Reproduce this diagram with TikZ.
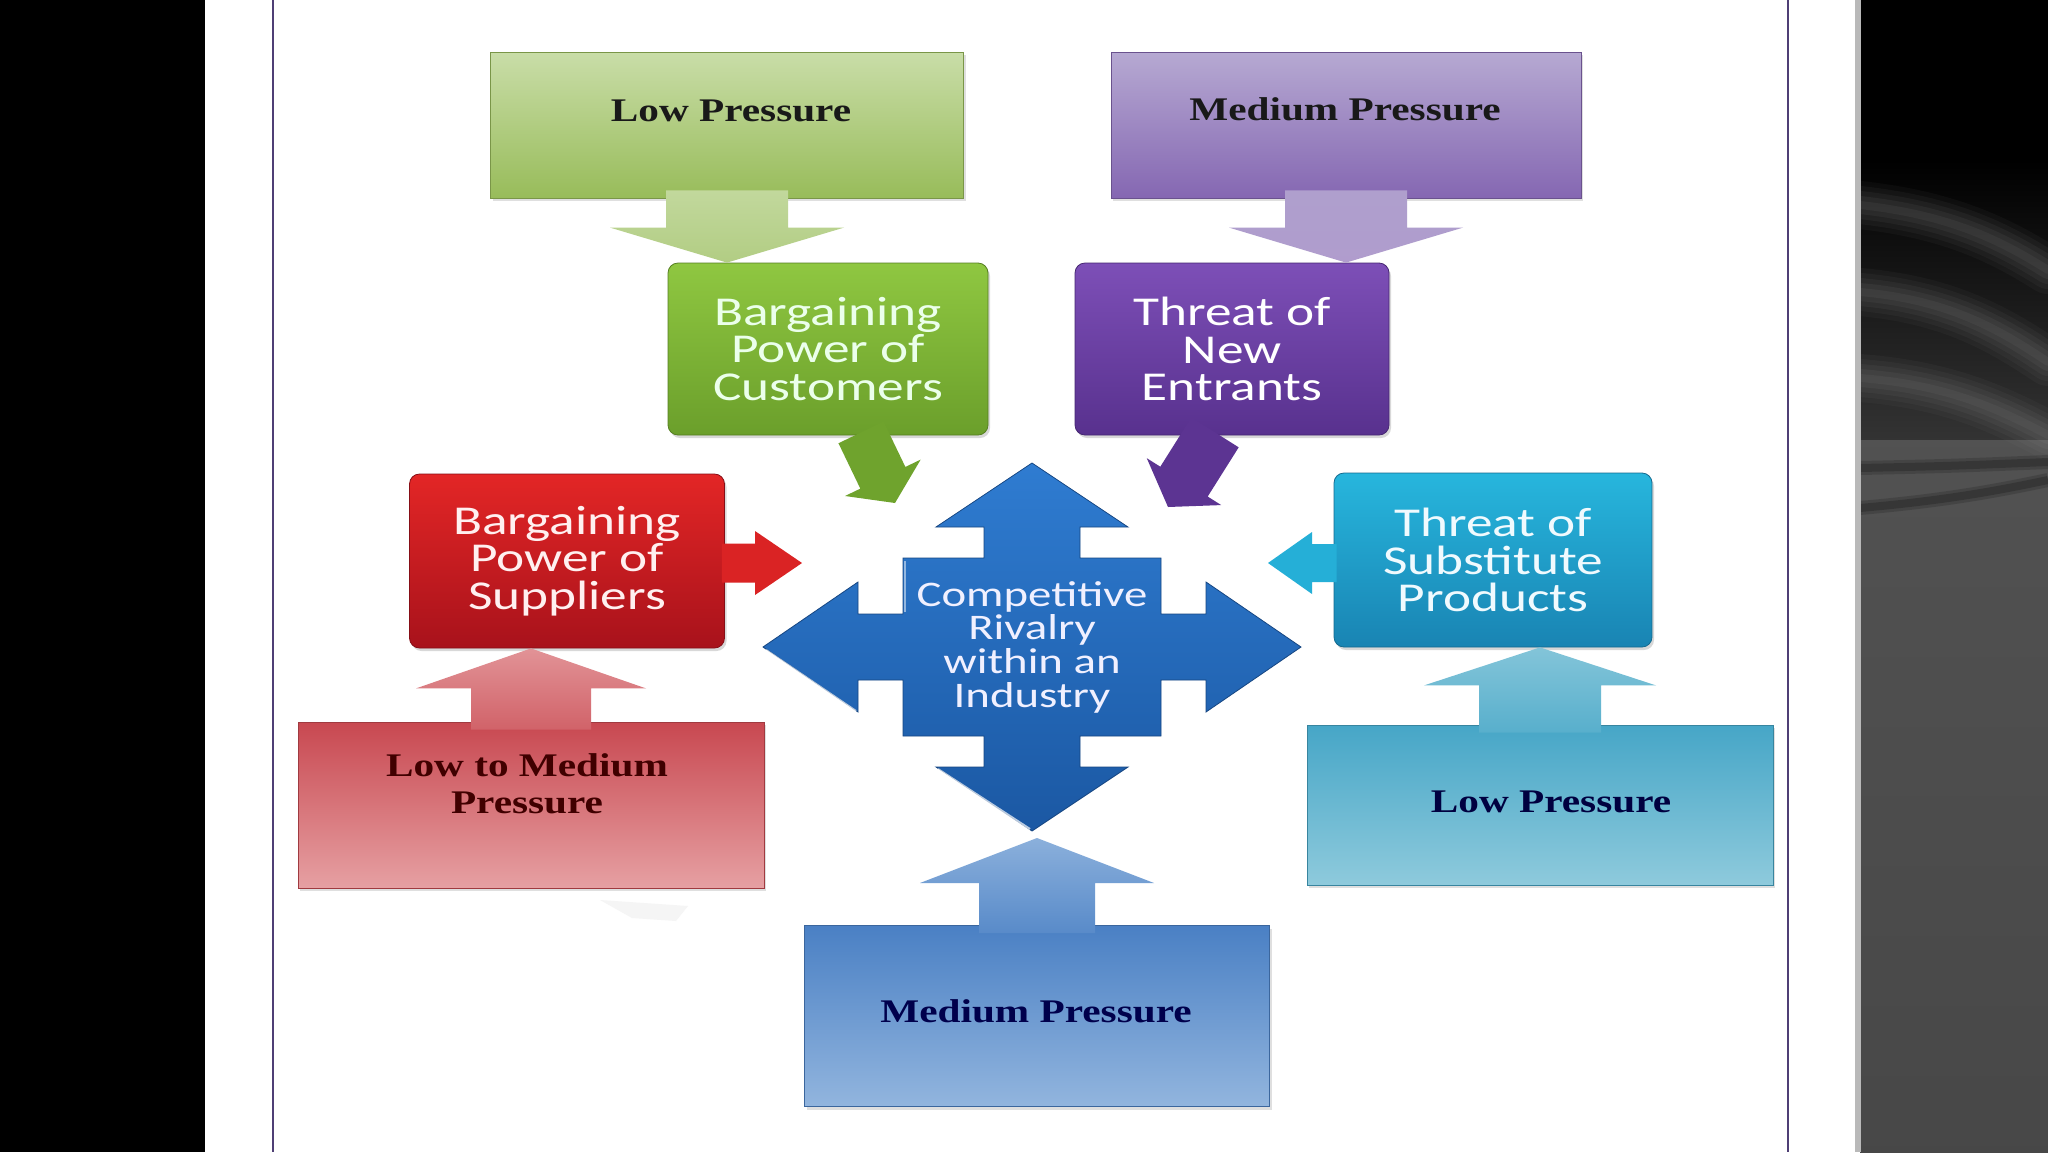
\documentclass[tikz,border=0pt]{standalone}
\usepackage{fontspec}
\usetikzlibrary{calc,shadows}
\newfontfamily\boxfont{Carlito}[FakeStretch=1.3]
\newfontfamily\presfont{Liberation Serif}[FakeStretch=1.25]

\definecolor{grnTop}{HTML}{C9DDA8}
\definecolor{grnBot}{HTML}{98BC5A}
\definecolor{grnHi}{HTML}{8FC741}
\definecolor{grnLo}{HTML}{6B9F2B}
\definecolor{vioTop}{HTML}{B6A9D2}
\definecolor{vioBot}{HTML}{8567B2}
\definecolor{vioHi}{HTML}{7D4FB7}
\definecolor{vioLo}{HTML}{58318E}
\definecolor{redHi}{HTML}{E32626}
\definecolor{redLo}{HTML}{A8121B}
\definecolor{redTop}{HTML}{C84850}
\definecolor{redBot}{HTML}{E6A0A3}
\definecolor{cyaHi}{HTML}{27B6DD}
\definecolor{cyaLo}{HTML}{1984B3}
\definecolor{cyaTop}{HTML}{46A6C7}
\definecolor{cyaBot}{HTML}{8ECADC}
\definecolor{bluTop}{HTML}{4A80C4}
\definecolor{bluBot}{HTML}{92B5DE}
\definecolor{rivHi}{HTML}{2F7CD1}
\definecolor{rivLo}{HTML}{1B58A3}
\definecolor{frameC}{HTML}{4F3F75}

\tikzset{
  presbox/.style={draw=#1, line width=0.8pt, inner sep=0pt,
    drop shadow={shadow xshift=2pt, shadow yshift=-3pt, opacity=.25}},
  mainbox/.style={rounded corners=10pt, draw=#1, line width=0.8pt, inner sep=0pt,
    align=center, font=\boxfont\fontsize{41}{37.5}\selectfont,
    drop shadow={shadow xshift=2pt, shadow yshift=-3pt, opacity=.3}},
  prestext/.style={font=\presfont\bfseries\fontsize{33}{37}\selectfont,
    align=center, inner sep=0pt, anchor=base},
  streak/.style={gray!75, line cap=round}
}

% block arrow: from, to, stem half width, head half width, head length, look
\newcommand{\blockarrow}[6]{%
  \path[#6] ($(#1)!#3!90:(#2)$) -- ($(#2)!#5!(#1)!#3!-90:(#1)$)
    -- ($(#2)!#5!(#1)!#4!-90:(#1)$) -- (#2)
    -- ($(#2)!#5!(#1)!#4!90:(#1)$) -- ($(#2)!#5!(#1)!#3!90:(#1)$)
    -- ($(#1)!#3!-90:(#2)$) -- cycle;}

\begin{document}
\begin{tikzpicture}[x=1pt, y=-1pt]
\useasboundingbox (0,0) rectangle (2048,1152);

% slide background
\fill[black] (0,0) rectangle (205,1152);
\fill[white] (205,0) rectangle (1858,1152);
\fill[black] (1858,0) rectangle (2048,1152);
\shade[top color=black, bottom color=black!80] (1860,160) rectangle (2048,440);
\shade[top color=black!68, bottom color=black!72] (1860,440) rectangle (2048,1152);
\begin{scope}
  \clip (1860,0) rectangle (2048,1152);
  \foreach \w/\o in {48/.05, 38/.06, 28/.07, 18/.08, 8/.08} {
    \draw[streak, line width=\w pt, opacity=\o] (1860,205) .. controls (1950,215) and (2000,240) .. (2048,270);
    \draw[streak, line width=\w pt, opacity=\o] (1860,292) .. controls (1950,300) and (2000,330) .. (2048,362);
    \draw[streak, line width=\w pt, opacity=\o] (1860,378) .. controls (1950,385) and (2000,410) .. (2048,435);
  }
  \foreach \w/\o in {14/.15, 8/.2} {
    \draw[black, line width=\w pt, opacity=\o] (1860,468) .. controls (1950,466) .. (2048,462);
    \draw[black, line width=\w pt, opacity=\o] (1860,508) .. controls (1950,500) and (2000,490) .. (2048,480);
  }
\end{scope}
\fill[gray!55] (1855,0) rectangle (1861,1152);

% frame
\draw[frameC, line width=2.5pt] (273,0) -- (273,1152);
\draw[frameC, line width=2.5pt] (1788,0) -- (1788,1152);

% faint reflection
\fill[black!4] (600,900) -- (688,906) -- (676,921) -- (632,918) -- cycle;

% pressure boxes
\node[presbox=grnBot!80!black, top color=grnTop, bottom color=grnBot,
  minimum width=473pt, minimum height=146pt] (pressCust) at (727,125) {};
\node[presbox=vioBot!80!black, top color=vioTop, bottom color=vioBot,
  minimum width=470pt, minimum height=146pt] (pressEntr) at (1346,125) {};
\node[presbox=redTop!80!black, top color=redTop, bottom color=redBot,
  minimum width=466pt, minimum height=166pt] (pressSupp) at (531,805) {};
\node[presbox=cyaTop!80!black, top color=cyaTop, bottom color=cyaBot,
  minimum width=466pt, minimum height=160pt] (pressSubs) at (1540,805) {};
\node[presbox=bluTop!80!black, top color=bluTop, bottom color=bluBot,
  minimum width=465pt, minimum height=181pt] (pressRiv) at (1037,1016) {};

% main boxes
\node[mainbox=grnLo!80!black, top color=grnHi, bottom color=grnLo, text=green!8!white,
  minimum width=320pt, minimum height=172pt] (cust) at (828,349) {Bargaining\\Power of\\Customers};
\node[mainbox=vioLo!80!black, top color=vioHi, bottom color=vioLo, text=white,
  minimum width=314pt, minimum height=172pt] (entr) at (1232,349) {Threat of\\New\\Entrants};
\node[mainbox=redLo!80!black, top color=redHi, bottom color=redLo, text=red!6!white,
  minimum width=315pt, minimum height=174pt] (supp) at (567,561) {Bargaining\\Power of\\Suppliers};
\node[mainbox=cyaLo!80!black, top color=cyaHi, bottom color=cyaLo, text=cyan!6!white,
  minimum width=318pt, minimum height=174pt] (subs) at (1493,560) {Threat of\\Substitute\\Products};

% competitive rivalry
\begin{scope}[shift={(1032,647)}]
  \shade[top color=rivHi, bottom color=rivLo, draw=rivLo!80!black, line width=0.8pt]
    (0,-184) -- (96,-120) -- (48,-120) -- (48,-89) -- (129,-89) -- (129,-33)
    -- (174,-33) -- (174,-65) -- (269,0) -- (174,65) -- (174,33) -- (129,33)
    -- (129,89) -- (48,89) -- (48,120) -- (96,120) -- (0,184) -- (-96,120)
    -- (-48,120) -- (-48,89) -- (-129,89) -- (-129,33) -- (-174,33) -- (-174,65)
    -- (-269,0) -- (-174,-65) -- (-174,-33) -- (-129,-33) -- (-129,-89)
    -- (-48,-89) -- (-48,-120) -- (-96,-120) -- cycle;
  \draw[white, opacity=.7, line width=2pt] (-266,3) -- (-176,64);
  \draw[white, opacity=.7, line width=2pt] (-94,122) -- (-2,182);
  \draw[white, opacity=.5, line width=1.5pt] (-127,-86) -- (-127,-35);
\end{scope}
\node[align=center, inner sep=0pt, text=blue!6!white,
  font=\boxfont\fontsize{36}{33.7}\selectfont] (rival) at (1032,647)
  {Competitive\\Rivalry\\within an\\Industry};

% arrow ends
\coordinate (srcCust) at ($(pressCust.south)+(0,-8)$);
\coordinate (dstCust) at (pressCust.south |- cust.north);
\coordinate (srcEntr) at ($(pressEntr.south)+(0,-8)$);
\coordinate (dstEntr) at (pressEntr.south |- entr.north);
\coordinate (srcSupp) at ($(pressSupp.north)+(0,8)$);
\coordinate (dstSupp) at (pressSupp.north |- supp.south);
\coordinate (srcSubs) at ($(pressSubs.north)+(0,8)$);
\coordinate (dstSubs) at (pressSubs.north |- subs.south);
\coordinate (srcRiv) at ($(pressRiv.north)+(0,8)$);
\coordinate (tipRiv) at (1037,838);
\coordinate (outCust) at ($(cust.south)+(33,-3)$);
\coordinate (tipCust) at (895,503);
\coordinate (outEntr) at ($(entr.south)+(-17,-3)$);
\coordinate (tipEntr) at (1168,507);
\coordinate (outSupp) at ($(supp.east)+(-3,2)$);
\coordinate (tipSupp) at (802,563);
\coordinate (outSubs) at ($(subs.west)+(3,3)$);
\coordinate (tipSubs) at (1268,563);

% block arrows
\blockarrow{srcCust}{dstCust}{61pt}{117pt}{35pt}{top color=grnTop!85!grnBot, bottom color=grnBot!75!white}
\blockarrow{srcEntr}{dstEntr}{61pt}{117pt}{35pt}{top color=vioTop!85!vioBot, bottom color=vioBot!65!white}
\blockarrow{srcSupp}{dstSupp}{60pt}{115pt}{40pt}{top color=redBot!85!redTop, bottom color=redTop!70!redBot}
\blockarrow{srcSubs}{dstSubs}{61pt}{116pt}{38pt}{top color=cyaBot!85!cyaTop, bottom color=cyaTop!75!cyaBot}
\blockarrow{srcRiv}{tipRiv}{58pt}{117pt}{45pt}{top color=bluBot!90!bluTop, bottom color=bluTop!80!bluBot}
\blockarrow{outCust}{tipCust}{25pt}{42pt}{28pt}{fill=grnLo!90!grnHi}
\blockarrow{outEntr}{tipEntr}{28pt}{44pt}{30pt}{fill=vioLo!90!vioHi}
\blockarrow{outSupp}{tipSupp}{19.5pt}{32pt}{47pt}{fill=redHi!85!redLo}
\blockarrow{outSubs}{tipSubs}{19pt}{31pt}{44pt}{fill=cyaHi!85!cyaLo}

% pressure labels
\node[prestext, text=black!90] (lowCust) at (731,121) {Low Pressure};
\node[prestext, text=black!90] (medEntr) at (1345,120) {Medium Pressure};
\node[prestext, text=red!25!black] (lmSupp) at (527,813) {Low to Medium\\Pressure};
\node[prestext, text=blue!25!black] (lowSubs) at (1551,812) {Low Pressure};
\node[prestext, text=blue!30!black] (medRiv) at (1036,1022) {Medium Pressure};

\end{tikzpicture}
\end{document}
